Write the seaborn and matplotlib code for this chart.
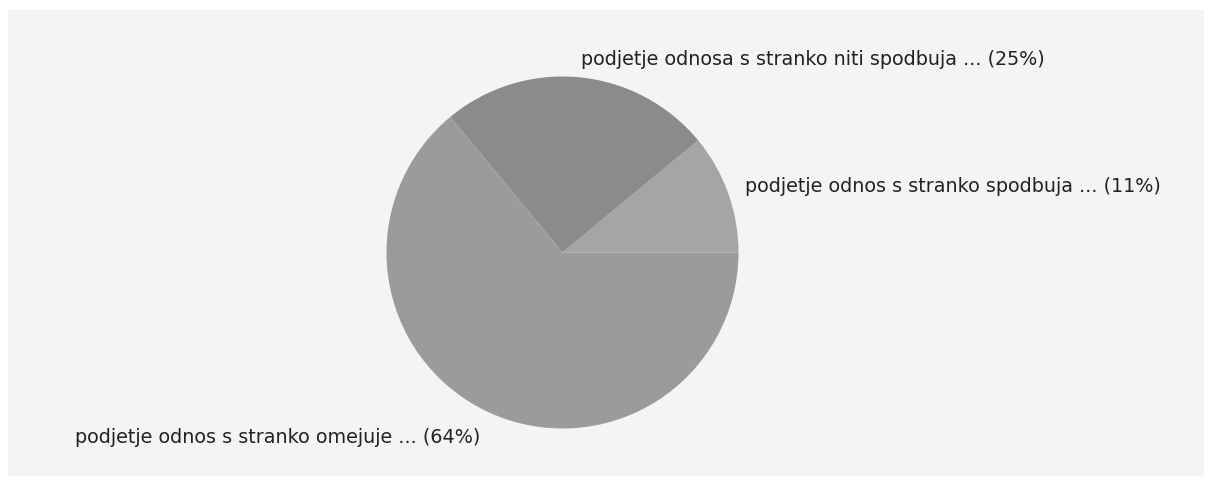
import matplotlib
matplotlib.use("Agg")
import math
import matplotlib.pyplot as plt
import seaborn as sns
from matplotlib.patches import Rectangle

sns.set_style("white")
plt.rcParams['font.family'] = ['DejaVu Sans']

categories = [
    "podjetje odnos s stranko spodbuja ...",
    "podjetje odnosa s stranko niti spodbuja ...",
    "podjetje odnos s stranko omejuje ...",
]
shares = [11, 25, 64]
colors = ["#a5a5a5", "#8b8b8b", "#9b9b9b"]

labels = [f"{c} ({v}%)" for c, v in zip(categories, shares)]

W, H = 1209, 484
fig = plt.figure(figsize=(W / 100, H / 100), dpi=100, facecolor="white")
ax = fig.add_axes([0, 0, 1, 1])
ax.add_patch(Rectangle((8, H - 476), 1196, 466, facecolor="#f4f4f4",
                       edgecolor="none", zorder=0))

wedges, texts = ax.pie(
    shares,
    labels=labels,
    colors=colors,
    startangle=0,
    counterclock=True,
    center=(562.5, H - 252.5),
    radius=176,
    labeldistance=1.1,
    frame=True,
    wedgeprops=dict(linewidth=0, zorder=2),
    textprops=dict(fontsize=13.8, color="#222222"),
)
for w, t in zip(wedges, texts):
    mid = math.radians((w.theta1 + w.theta2) / 2)
    t.set_ha("left" if math.cos(mid) > 0 else "right")
    t.set_va("top" if math.sin(mid) < -0.8 else "center")

ax.set_xlim(0, W)
ax.set_ylim(0, H)
ax.set_aspect("auto")
ax.axis("off")

fig.savefig("out.png", dpi=100, facecolor="white")
